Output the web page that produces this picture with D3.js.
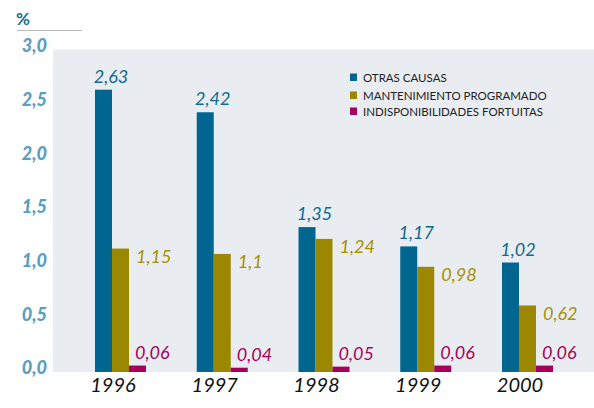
<!DOCTYPE html>
<html><head><meta charset="utf-8">
<script src="https://cdn.jsdelivr.net/npm/d3@7"></script>
<style>body{margin:0;background:#fff}svg{display:block}</style>
</head><body><svg id="c" width="594" height="408"></svg>
<script>
const years = ["1996","1997","1998","1999","2000"];
const otrasCausas = [2.63, 2.42, 1.35, 1.17, 1.02];
const mantenimiento = [1.15, 1.10, 1.24, 0.98, 0.62];
const indisponibilidades = [0.06, 0.04, 0.05, 0.06, 0.06];
const seriesNames = ["OTRAS CAUSAS", "MANTENIMIENTO PROGRAMADO", "INDISPONIBILIDADES FORTUITAS"];
const yTicks = [0, 0.5, 1.0, 1.5, 2.0, 2.5, 3.0];

const colors = ["#00658f", "#9c8800", "#a5005a"];
const labelColors = ["#0e6a90", "#a89000", "#a8005a"];
const svg = d3.select("#c");
const fmt = v => d3.format(",")(v).replace(".", ",");

const y = d3.scaleLinear().domain([0, 3]).range([372, 50]);
const x = d3.scaleBand().domain(years).range([95, 95 + 5 * 101.75]).paddingInner(0).paddingOuter(0);
const sub = d3.scaleBand().domain([0,1,2]).range([0, 51]);

// plot background
svg.append("rect").attr("x", 53).attr("y", 49.5).attr("width", 541).attr("height", 322.5).attr("fill", "#e9edf1");

// % label and line
svg.append("text").attr("x", 16).attr("y", 25).text("%")
  .attr("font-family", "Lato, 'Open Sans', sans-serif").attr("font-weight", "bold").attr("font-size", 17).attr("fill", "#1a6a90");
svg.append("line").attr("x1", 17).attr("x2", 82).attr("y1", 30.5).attr("y2", 30.5).attr("stroke", "#bbbbbb").attr("stroke-width", 1);

// y axis labels
svg.append("g").selectAll("text").data(yTicks).join("text")
  .attr("x", 47).attr("y", d => y(d) - 4).attr("dy", "0.35em").attr("text-anchor", "end")
  .attr("font-family", "Lato, 'Open Sans', sans-serif").attr("font-style", "italic").attr("font-weight", "900")
  .attr("font-size", 18).attr("fill", "#5a9ec0")
  .text(d => d.toFixed(1).replace(".", ","));

const series = [otrasCausas, mantenimiento, indisponibilidades];
const gx = d => x(d);
series.forEach((vals, si) => {
  const g = svg.append("g");
  g.selectAll("rect").data(vals).join("rect")
    .attr("x", (d, i) => gx(years[i]) + sub(si))
    .attr("y", d => y(d))
    .attr("width", sub.bandwidth())
    .attr("height", d => y(0) - y(d))
    .attr("fill", colors[si]);
  const t = g.selectAll("text").data(vals).join("text")
    .attr("font-family", "Lato, 'Open Sans', sans-serif").attr("font-style", "italic")
    .attr("font-size", 18).attr("fill", labelColors[si])
    .text(d => fmt(d));
  if (si === 0) {
    t.attr("x", (d, i) => gx(years[i]) + sub(si) + 16).attr("y", d => y(d) - 7).attr("text-anchor", "middle");
  } else if (si === 1) {
    t.attr("x", (d, i) => gx(years[i]) + sub(si) + sub.bandwidth() + 7).attr("y", d => y(d) + 8).attr("dy", "0.35em");
  } else {
    t.attr("x", (d, i) => gx(years[i]) + sub(si) + 6).attr("y", d => y(d) - 7);
  }
});

// x labels
svg.append("g").selectAll("text").data(years).join("text")
  .attr("x", d => gx(d) + 18).attr("y", 392).attr("text-anchor", "middle")
  .attr("font-family", "Lato, 'Open Sans', sans-serif").attr("font-style", "italic")
  .attr("font-size", 20).attr("fill", "#111")
  .text(d => d);

// legend
const legY = [77.5, 95.5, 111.5];
const lg = svg.append("g");
seriesNames.forEach((n, i) => {
  lg.append("rect").attr("x", 350).attr("y", legY[i] - 4).attr("width", 7).attr("height", 7.5).attr("fill", colors[i]);
  lg.append("text").attr("x", 363).attr("y", legY[i]).attr("dy", "0.35em")
    .attr("font-family", "Lato, 'Open Sans', sans-serif").attr("font-size", 11.5).attr("fill", "#222")
    .text(n);
});
</script></body></html>
